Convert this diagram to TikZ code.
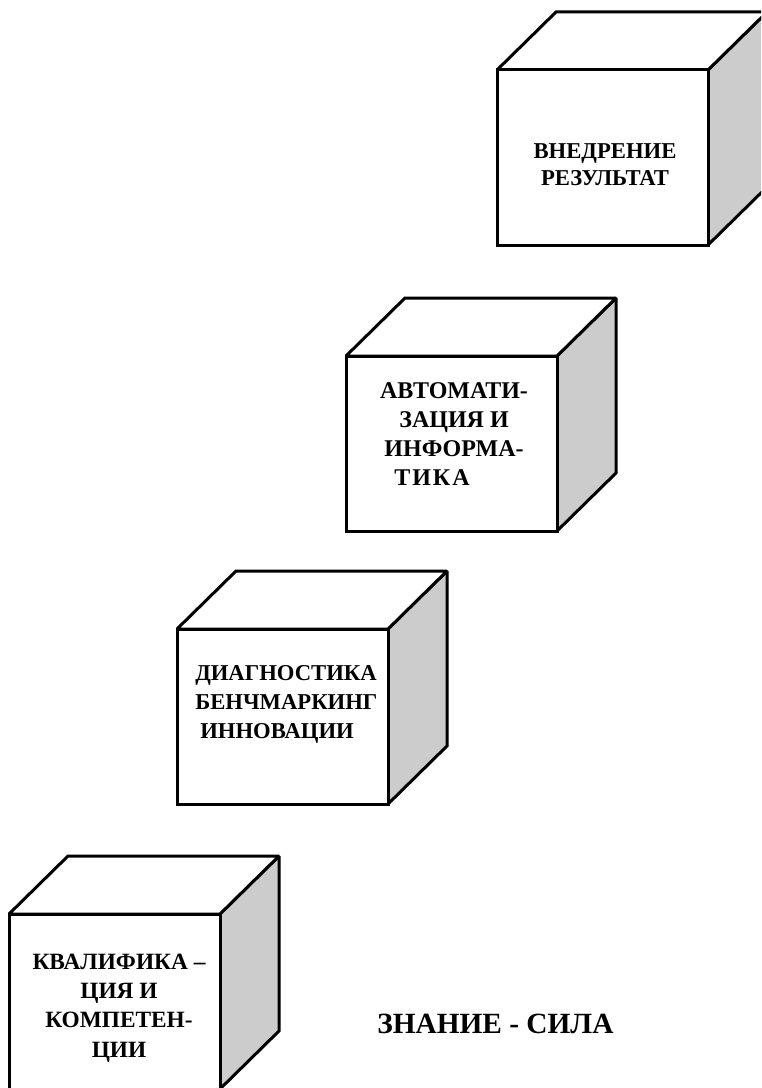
\documentclass[tikz,border=0pt]{standalone}
\usepackage{fontspec}
\setmainfont{Liberation Serif}[BoldFont={Liberation Serif Bold}]
\definecolor{sidegray}{HTML}{CCCCCC}
\begin{document}
\begin{tikzpicture}[x=0.75pt,y=-0.75pt,
  edge/.style={line width=2.25pt,line join=miter,miter limit=2,draw=black},
  lbl/.style={inner sep=0pt,anchor=base,font=\fontsize{17}{21.75}\selectfont\bfseries},
  motto/.style={inner sep=0pt,anchor=base west,font=\fontsize{22}{26}\selectfont\bfseries},
  cube/.pic={
    \filldraw[edge,fill=sidegray] (211,0) -- (270,-58) -- (270,117) -- (211,175) -- cycle;
    \filldraw[edge,fill=white] (0,0) -- (59,-58) -- (270,-58) -- (211,0) -- cycle;
    \filldraw[edge,fill=white] (0,0) rectangle (211,175);
  }]
\useasboundingbox (0,0) rectangle (761,1088);
\clip (0,0) rectangle (761,1088);
\fill[white] (0,0) rectangle (761,1088);

% cubes (front top-left corners)
\pic (c1) at (497,70) {cube};
\pic (c2) at (346,356) {cube};
\pic (c3) at (177,629) {cube};
\pic (c4) at (9,914) {cube};

% labels
\node[lbl] (t1) at (605,158) {\fontsize{17}{20.25}\selectfont\begin{tabular}[t]{@{}c@{}}ВНЕДРЕНИЕ\\РЕЗУЛЬТАТ\end{tabular}};
\node[lbl] (t2) at (454,398) {\fontsize{18}{21.75}\selectfont\begin{tabular}[t]{@{}c@{}}АВТОМАТИ-\\ЗАЦИЯ И\\ИНФОРМА-\\{\addfontfeature{LetterSpace=8}ТИКА}\hspace*{33pt}\end{tabular}};
\node[lbl,anchor=base west] (t3) at (195,680) {\begin{tabular}[t]{@{}l@{}}ДИАГНОСТИКА\\БЕНЧМАРКИНГ\\\hspace*{3.75pt}ИННОВАЦИИ\end{tabular}};
\node[lbl] (t4) at (119,969) {\fontsize{17.5}{22}\selectfont\begin{tabular}[t]{@{}c@{}}КВАЛИФИКА –\\ЦИЯ И\\КОМПЕТЕН-\\ЦИИ\end{tabular}};
\node[motto] (m) at (377,1033) {ЗНАНИЕ - СИЛА};
\end{tikzpicture}
\end{document}
